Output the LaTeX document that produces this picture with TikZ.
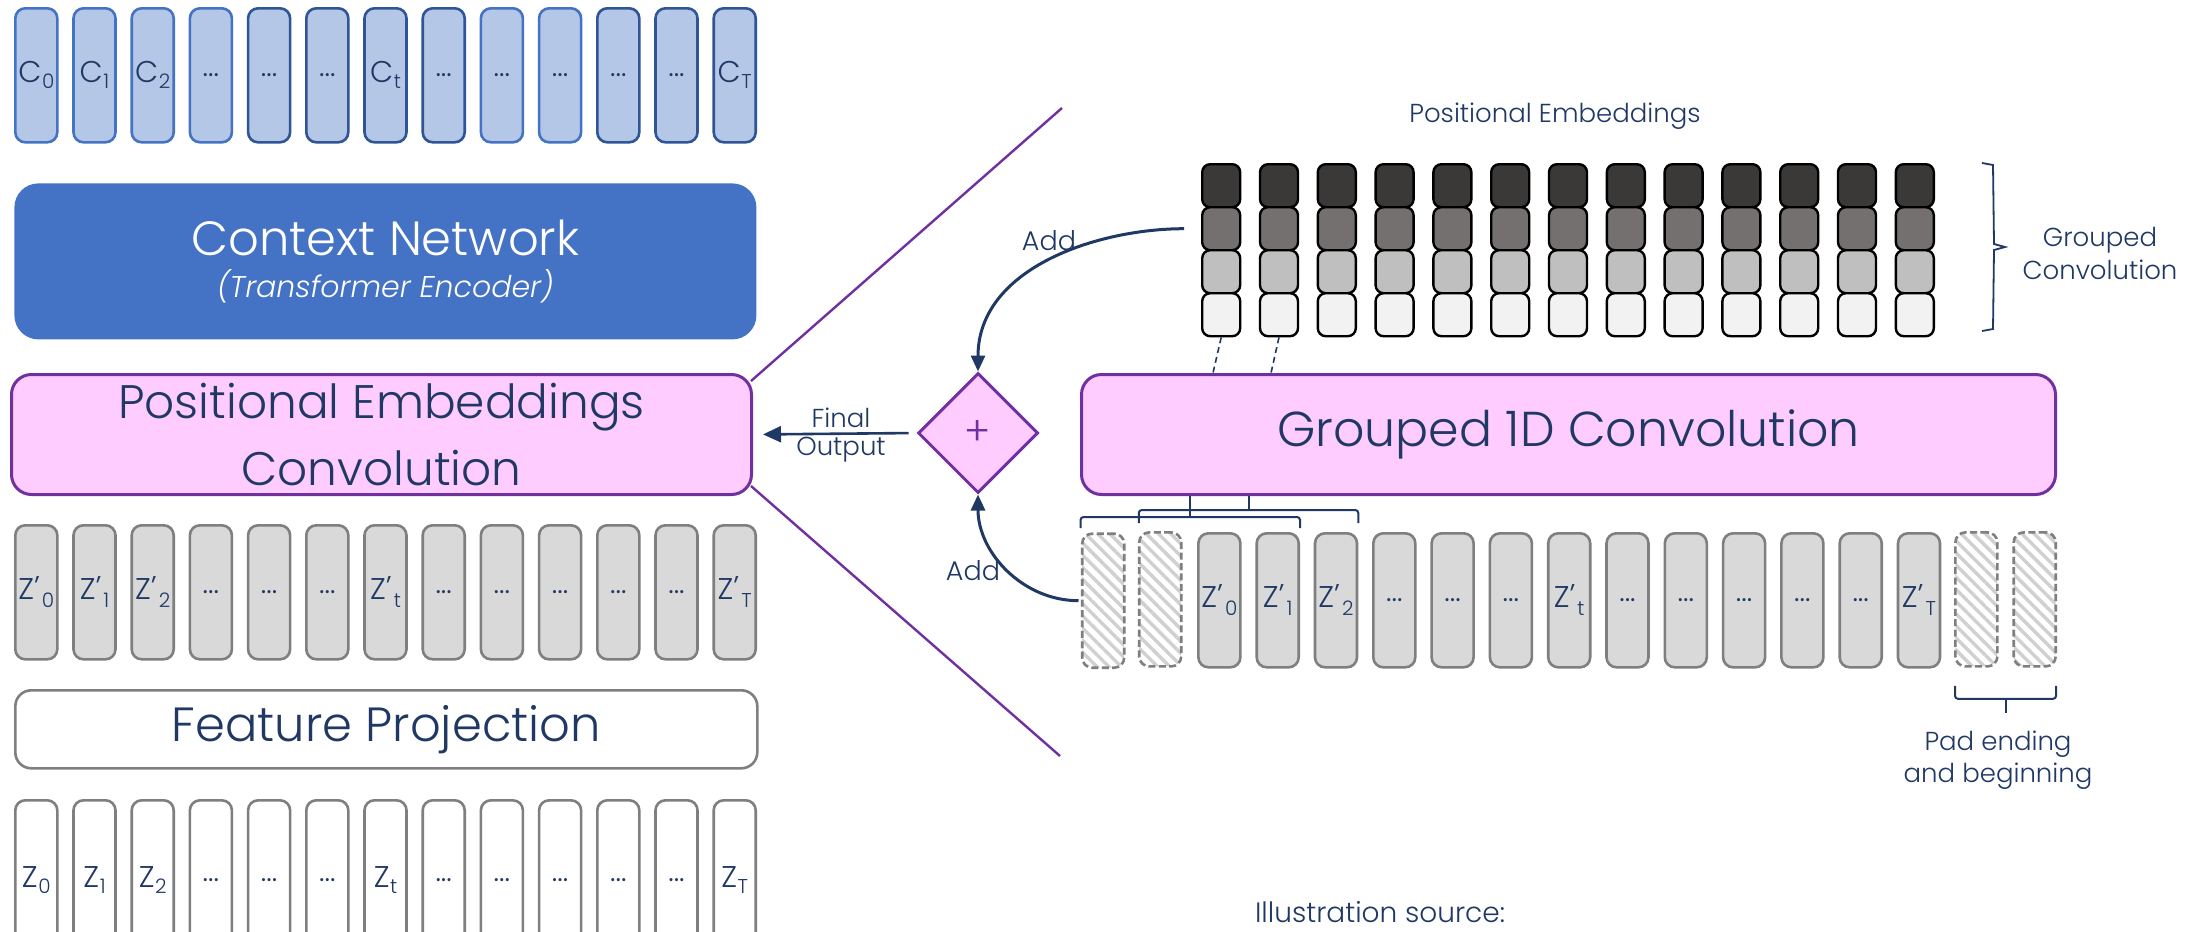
\documentclass[tikz,border=0pt]{standalone}
\usepackage{fontspec}
\setmainfont{Poppins}[UprightFont=* Light, ItalicFont=* Light Italic]
\usetikzlibrary{shapes.geometric,patterns.meta,calc,arrows.meta}
\definecolor{navy}{HTML}{203864}
\definecolor{ppl}{HTML}{7030A0}
\definecolor{pink}{HTML}{FFCCFF}
\definecolor{cnblue}{HTML}{4472C4}
\definecolor{cfill}{HTML}{B4C7E7}
\definecolor{cbl}{HTML}{4472C4}
\definecolor{cbd}{HTML}{2F5597}
\definecolor{zfill}{HTML}{D9D9D9}
\definecolor{zdraw}{HTML}{7F7F7F}
\definecolor{hatch}{HTML}{D0D0D0}
\definecolor{pe1}{HTML}{3A3938}
\definecolor{pe2}{HTML}{757070}
\definecolor{pe3}{HTML}{BFBFBF}
\definecolor{pe4}{HTML}{F2F2F2}
\newcommand{\ddd}{...}
\newcommand{\lab}[2]{#1\kern0.3pt\raisebox{-3pt}{\fontsize{10}{10}\selectfont #2}}
\newcommand{\labp}[2]{#1\raisebox{1pt}{'}\kern1pt\raisebox{-4pt}{\fontsize{10}{10}\selectfont #2}}
\begin{document}
\begin{tikzpicture}[x=0.5pt,y=-0.5pt,
  every node/.style={font=\fontsize{15}{18}\selectfont, text=navy},
  colbox/.style={rounded corners=5pt, minimum width=21pt, minimum height=67pt, inner sep=0pt, anchor=north west},
  cbox/.style={colbox, fill=cfill, line width=1.3pt},
  zpbox/.style={colbox, fill=zfill, draw=zdraw, line width=1.3pt},
  zbox/.style={colbox, fill=white, draw=zdraw, line width=1.3pt},
  padbox/.style={colbox, pattern={Lines[angle=-45,distance=4.3pt,line width=1.7pt]}, pattern color=hatch,
    postaction={draw=zdraw, line width=1.3pt, dash pattern=on 3.5pt off 1.7pt}},
  bigbox/.style={rounded corners=10pt, inner sep=0pt, anchor=north west, align=center},
  pcell/.style={draw=black, line width=1.2pt, rounded corners=4pt, minimum width=19pt, minimum height=21.5pt, inner sep=0pt, anchor=north west},
  small/.style={font=\fontsize{13}{16}\selectfont, align=center},
  arr/.style={draw=navy, line width=1.5pt, -{Triangle[length=8pt,width=7pt]}},
  brk/.style={draw=navy, line width=1pt, rounded corners=1.5pt},
  pline/.style={draw=ppl, line width=1.2pt}
]
\clip (0,0) rectangle (2208,932);
\fill[white] (0,0) rectangle (2208,932);

% ---------- left column ----------
\foreach \t/\bc [count=\i from 0] in {{\lab{C}{0}}/cbl,{\lab{C}{1}}/cbl,{\lab{C}{2}}/cbl,\ddd/cbl,\ddd/cbd,\ddd/cbd,{\lab{C}{t}}/cbd,\ddd/cbd,\ddd/cbl,\ddd/cbl,\ddd/cbd,\ddd/cbd,{\lab{C}{T}}/cbd}
  \node[cbox, draw=\bc] (c\i) at ({14+58.2*\i},7) {\t};

\node[bigbox, fill=cnblue, rounded corners=12pt, minimum width=371pt, minimum height=78pt, text=white,
  font=\fontsize{24}{21}\selectfont] (cn) at (14,183)
  {Context Network\\{\fontsize{15}{18}\selectfont\itshape (Transformer Encoder)}};

\node[bigbox, fill=pink, draw=ppl, line width=1.5pt, minimum width=370pt, minimum height=60pt,
  font=\fontsize{23.5}{33.5}\selectfont] (pe) at (10,373)
  {Positional Embeddings\\Convolution};

\foreach \t [count=\i from 0] in {{\labp{Z}{0}},{\labp{Z}{1}},{\labp{Z}{2}},\ddd,\ddd,\ddd,{\labp{Z}{t}},\ddd,\ddd,\ddd,\ddd,\ddd,{\labp{Z}{T}}}
  \node[zpbox] (zp\i) at ({14+58.2*\i},524) {\t};

\node[bigbox, fill=white, draw=zdraw, line width=1.3pt, rounded corners=8pt, minimum width=371pt, minimum height=39pt,
  font=\fontsize{24}{28}\selectfont] (fp) at (14,689)
  {Feature Projection};

\foreach \t [count=\i from 0] in {{\lab{Z}{0}},{\lab{Z}{1}},{\lab{Z}{2}},\ddd,\ddd,\ddd,{\lab{Z}{t}},\ddd,\ddd,\ddd,\ddd,\ddd,{\lab{Z}{T}}}
  \node[zbox, minimum height=80pt] (z\i) at ({14+58.2*\i},799) {\t};

% ---------- zoom lines ----------
\coordinate (ztop) at (1062,108);
\coordinate (zbot) at (1060,756);
\draw[pline] ($(pe.north east)+(-2,8)$) -- (ztop);
\draw[pline] ($(pe.south east)+(-2,-10)$) -- (zbot);

% ---------- positional embedding columns ----------
\node[small, anchor=base] (pelab) at (1555,122) {Positional Embeddings};
\foreach \i in {0,1,2,3,4,5,6,7,8,9,10,11,12}{
  \node[pcell, fill=pe1] (p\i a) at ({1201+57.8*\i},163) {};
  \node[pcell, fill=pe2] (p\i b) at ({1201+57.8*\i},206) {};
  \node[pcell, fill=pe3] (p\i c) at ({1201+57.8*\i},249) {};
  \node[pcell, fill=pe4] (p\i d) at ({1201+57.8*\i},292) {};
}
\draw[navy, line width=0.9pt] (1982,163) -- (1993,165) -- (1994,244) -- (2005,247) -- (1994,250) -- (1993,329) -- (1982,331);
\node[small, anchor=base, font=\fontsize{13}{16.5}\selectfont] (gclab) at (2100,279) {Grouped\\Convolution};

% ---------- grouped conv ----------
\node[bigbox, fill=pink, draw=ppl, line width=1.5pt, minimum width=487pt, minimum height=60pt,
  font=\fontsize{24.5}{30}\selectfont] (gc) at (1080,373)
  {Grouped 1D Convolution};

\draw[navy, line width=0.8pt, dash pattern=on 3pt off 2pt] (p0d.south) -- ($(gc.north west)+(133,0)$);
\draw[navy, line width=0.8pt, dash pattern=on 3pt off 2pt] (p1d.south) -- ($(gc.north west)+(191,0)$);

\node[diamond, fill=pink, draw=ppl, line width=1.5pt, minimum width=60pt, minimum height=60pt, inner sep=0pt, text=ppl, font=\fontsize{20}{20}\selectfont] (plus) at (978,433) {+};

% ---------- right row ----------
\foreach \t [count=\i from 0] in {{},{},{\labp{Z}{0}},{\labp{Z}{1}},{\labp{Z}{2}},\ddd,\ddd,\ddd,{\labp{Z}{t}},\ddd,\ddd,\ddd,\ddd,\ddd,{\labp{Z}{T}},{},{}}{
  \ifnum\i<2 \node[padbox] (r\i) at ({1080.5+58.3*\i},532) {};
  \else\ifnum\i>14 \node[padbox] (r\i) at ({1080.5+58.3*\i},532) {};
  \else \node[zpbox] (r\i) at ({1080.5+58.3*\i},532) {\t};
  \fi\fi
}

% brackets
\draw[brk] ($(r1.north west)+(0,-9)$) |- ($(r4.north east)+(0,-22)$) -- ($(r4.north east)+(0,-9)$);
\draw[brk] ($(r0.north west)+(0,-4)$) |- ($(r3.north east)+(0,-15)$) -- ($(r3.north east)+(0,-4)$);
\coordinate (b1) at ($(r0.north west)!0.5!(r3.north east)+(0,-15)$);
\coordinate (b2) at ($(r1.north west)!0.5!(r4.north east)+(0,-22)$);
\draw[navy, line width=1pt] (b1) -- (b1 |- gc.south);
\draw[navy, line width=1pt] (b2) -- (b2 |- gc.south);

\draw[brk] ($(r15.south west)+(0,19)$) |- ($(r16.south east)+(0,32)$) -- ($(r16.south east)+(0,19)$);
\coordinate (b3) at ($(r15.south west)!0.5!(r16.south east)+(0,32)$);
\draw[navy, line width=1pt] (b3) -- ++(0,14);
\node[small, anchor=base] (padlab) at (1998,782) {Pad ending\\and beginning};

% ---------- arrows ----------
\draw[arr, shorten <=8.5pt] (p0b.west) to[out=180,in=90] (plus.north);
\node[small, anchor=base, font=\fontsize{13.5}{16}\selectfont] (add1) at (1049,250) {Add};
\draw[arr, shorten <=1pt] (r0.west) to[out=180,in=-90] (plus.south);
\node[small, anchor=base, font=\fontsize{13.5}{16}\selectfont] (add2) at (973,580) {Add};
\draw[draw=navy, line width=1.3pt, -{Triangle[length=9pt,width=8pt]}, shorten <=4pt, shorten >=5pt] (plus.west) -- (pe.east);
\node[small, anchor=base, font=\fontsize{13}{14}\selectfont] (fo) at (841,455) {Final\\Output};

\node[small, anchor=base, font=\fontsize{14}{16}\selectfont] (src) at (1380,922) {Illustration source:};
\end{tikzpicture}
\end{document}
